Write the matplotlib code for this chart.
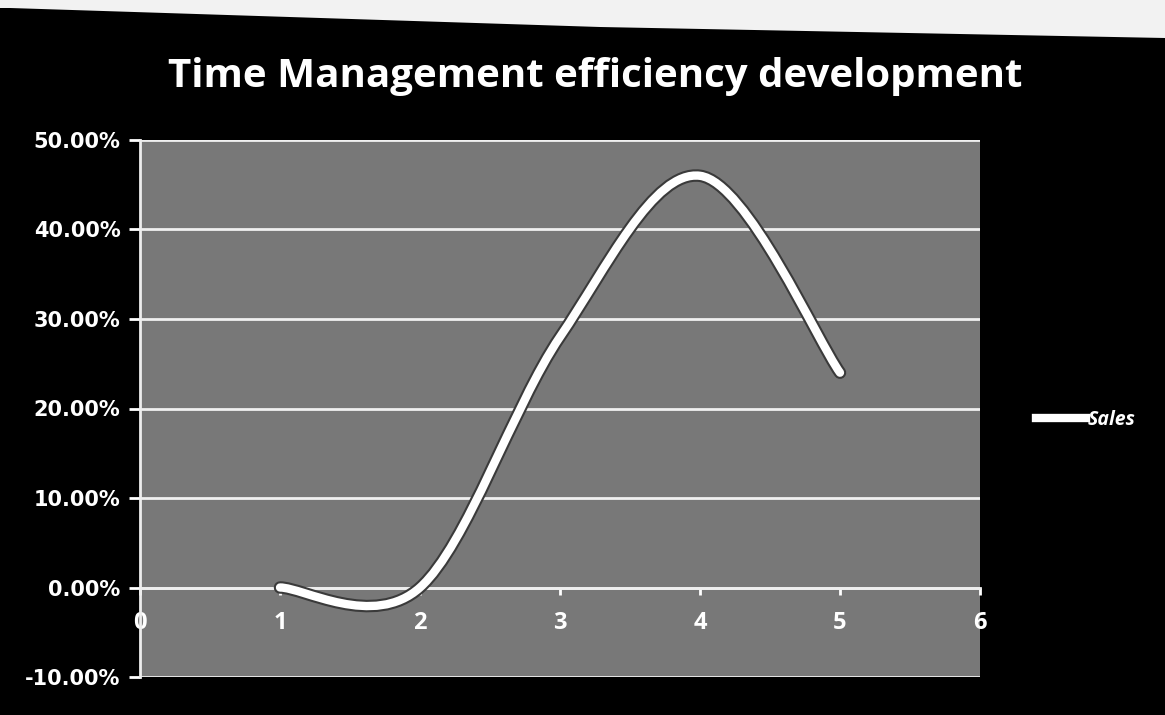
import matplotlib
matplotlib.use("Agg")
import matplotlib.pyplot as plt
import matplotlib.patheffects as pe
from matplotlib.path import Path
from matplotlib.patches import PathPatch, Polygon
from matplotlib.lines import Line2D

# Sales series (percent)
x_vals = [1, 2, 3, 4, 5]
sales = [0.0, 0.0, 28.0, 46.0, 24.0]
y_ticks = [-10, 0, 10, 20, 30, 40, 50]
x_ticks = [0, 1, 2, 3, 4, 5, 6]
title = "Time Management efficiency development"

plt.rcParams['font.family'] = ['Open Sans', 'DejaVu Sans']

fig = plt.figure(figsize=(11.65, 7.15), dpi=100, facecolor='black')

# paper edge showing along the top
fig.patches.append(Polygon([(0, 1), (0, 1 - 8/715), (10/1165, 1 - 8/715),
                            (600/1165, 1 - 27/715), (1, 1 - 38/715), (1, 1)],
                           closed=True, transform=fig.transFigure,
                           facecolor='#f2f2f2', edgecolor='none'))

ax = fig.add_axes([140/1165, 1-677/715, 840/1165, 537/715])
ax.set_facecolor('#787878')

ax.set_xlim(0, 6)
ax.set_ylim(-10, 50)
ax.set_yticks(y_ticks)
ax.set_yticklabels(['%.2f%%' % v for v in y_ticks])
ax.set_xticks(x_ticks)
ax.set_xticklabels([str(v) for v in x_ticks])

ax.grid(axis='y', color='#f0f0f0', linewidth=2)
ax.set_axisbelow(True)
for side in ['top', 'right']:
    ax.spines[side].set_visible(False)
ax.spines['left'].set_color('#eeeeee')
ax.spines['left'].set_linewidth(2)
ax.spines['bottom'].set_position(('data', 0))
ax.spines['bottom'].set_color('#eeeeee')
ax.spines['bottom'].set_linewidth(2)
ax.tick_params(axis='y', colors='white', length=8, width=2, pad=6)
ax.tick_params(axis='x', colors='white', length=5, width=2, direction='out', pad=12)
for lab in ax.get_yticklabels():
    lab.set_fontfamily('DejaVu Sans')
    lab.set_fontsize(15)
    lab.set_fontweight('bold')
    lab.set_color('white')
for lab in ax.get_xticklabels():
    lab.set_fontsize(17)
    lab.set_fontweight('bold')
    lab.set_color('white')

# smoothed line through the points (cubic bezier, catmull-rom style)
pts = list(zip(x_vals, sales))
verts = [pts[0]]
codes = [Path.MOVETO]
for i in range(len(pts) - 1):
    p0 = pts[i - 1] if i > 0 else pts[i]
    p1 = pts[i]
    p2 = pts[i + 1]
    p3 = pts[i + 2] if i + 2 < len(pts) else pts[i + 1]
    c1 = (p1[0] + (p2[0] - p0[0]) / 6, p1[1] + (p2[1] - p0[1]) / 6)
    c2 = (p2[0] - (p3[0] - p1[0]) / 6, p2[1] - (p3[1] - p1[1]) / 6)
    verts += [c1, c2, p2]
    codes += [Path.CURVE4] * 3
curve = PathPatch(Path(verts, codes), facecolor='none', edgecolor='white', lw=6,
                  capstyle='round', zorder=3,
                  path_effects=[pe.Stroke(linewidth=9, foreground='#3a3a3a'), pe.Normal()])
ax.add_patch(curve)

fig.text(595/1165, 1-76/715, title, color='white', fontsize=29, fontweight='bold',
         ha='center', va='center')

handle = Line2D([0], [0], color='white', lw=6)
leg = fig.legend([handle], ['Sales'], loc='center left', bbox_to_anchor=(1018/1165, 1-420/715),
                 frameon=False, handlelength=2.6, handletextpad=0.1, fontsize=14)
for t in leg.get_texts():
    t.set_color('white')
    t.set_fontweight('bold')
    t.set_fontstyle('italic')

fig.savefig('out.png', dpi=100, facecolor='black')
